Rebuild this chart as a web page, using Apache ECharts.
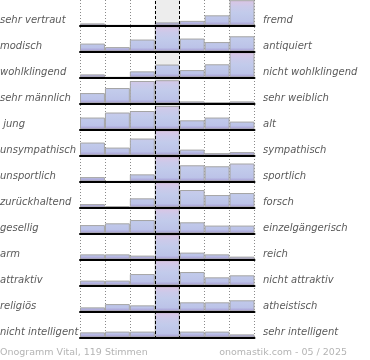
<!DOCTYPE html>
<html>
<head>
<meta charset="utf-8">
<script src="https://cdn.jsdelivr.net/npm/echarts@6/dist/echarts.min.js"></script>
<style>
html,body{margin:0;padding:0;background:#fff;}
#c{width:370px;height:360px;}
</style>
</head>
<body>
<div id="c"></div>
<script>
// ---- data ----
const bins = ['1','2','3','4','5','6','7'];
const leftLabels = ['sehr vertraut','modisch','wohlklingend','sehr männlich',' jung','unsympathisch','unsportlich','zurückhaltend','gesellig','arm','attraktiv','religiös','nicht intelligent'];
const rightLabels = ['fremd','antiquiert','nicht wohlklingend','sehr weiblich','alt','sympathisch','sportlich','forsch','einzelgängerisch','reich','nicht attraktiv','atheistisch','sehr intelligent'];
// bar heights in % of row height
const vertraut     = [8, 0, 0, 12, 18, 40, 100];
const modisch      = [31, 17, 47, 100, 51, 37, 60];
const wohlklingend = [12, 0, 24, 51, 29, 52, 100];
const maennlich    = [41, 61, 89, 92, 8, 4, 8];
const jung         = [47, 67, 73, 93, 36, 47, 31];
const unsympath    = [51, 31, 67, 100, 23, 9, 13];
const unsportlich  = [17, 0, 28, 100, 64, 60, 71];
const zurueck      = [13, 5, 36, 100, 69, 49, 57];
const gesellig     = [33, 40, 53, 100, 44, 31, 31];
const arm          = [20, 20, 15, 100, 27, 20, 11];
const attraktiv    = [19, 19, 45, 100, 53, 32, 40];
const religioes    = [16, 29, 24, 100, 36, 36, 44];
const intelligent  = [20, 23, 23, 100, 23, 23, 12];
const rows = [vertraut, modisch, wohlklingend, maennlich, jung, unsympath, unsportlich, zurueck, gesellig, arm, attraktiv, religioes, intelligent];
const footerLeft = 'Onogramm Vital, 119 Stimmen';
const footerRight = 'onomastik.com - 05 / 2025';

// ---- layout ----
const L = 80, W = 174.5, RH = 26, GH = 25.2;
const chart = echarts.init(document.getElementById('c'), null, {renderer: 'canvas'});
const grids = [], xAxes = [], yAxes = [], series = [], graphics = [];

rows.forEach((vals, i) => {
  const top = i * RH + 0.2;
  grids.push({left: L, top: top, width: W, height: GH});
  xAxes.push({type: 'category', data: bins, gridIndex: i, z: 5,
    axisLine: {show: true, lineStyle: {color: '#000', width: 2}},
    axisTick: {show: false}, axisLabel: {show: false}, splitLine: {show: false}});
  yAxes.push({type: 'value', gridIndex: i, min: 0, max: 100, show: false, splitLine: {show: false}});
  const grad = new echarts.graphic.LinearGradient(0, top, 0, top + GH, [
    {offset: 0, color: '#dcc5e4'},
    {offset: 0.25, color: '#cbcaea'},
    {offset: 0.5, color: '#c2cbeb'},
    {offset: 0.85, color: '#bcc3e8'},
    {offset: 1, color: '#a396d0'}
  ], true);
  series.push({type: 'bar', xAxisIndex: i, yAxisIndex: i, data: vals, z: 3,
    barCategoryGap: '0%', silent: true, animation: false,
    itemStyle: {color: grad, borderColor: '#a5a5a5', borderWidth: 1}});
  graphics.push({type: 'text', left: 0, top: top + 15,
    style: {text: leftLabels[i], fill: '#5a5a5a', font: 'italic 10px "DejaVu Sans"'}});
  graphics.push({type: 'text', left: 263, top: top + 15.5,
    style: {text: rightLabels[i], fill: '#5a5a5a', font: 'italic 10px "DejaVu Sans"'}});
});

// background grid: column lines and centre band
const bg = rows.length;
grids.push({left: L, top: 0, width: W, height: 339});
xAxes.push({type: 'value', gridIndex: bg, min: 0, max: 7, interval: 1, z: 0,
  axisLine: {show: false}, axisTick: {show: false}, axisLabel: {show: false},
  splitLine: {show: true, lineStyle: {color: '#8a8a8a', width: 1, type: [1, 2]}}});
yAxes.push({type: 'value', gridIndex: bg, min: 0, max: 1, show: false, splitLine: {show: false}});
series.push({type: 'line', xAxisIndex: bg, yAxisIndex: bg, data: [], z: 1, silent: true, animation: false,
  markArea: {silent: true, itemStyle: {color: '#ededed'}, data: [[{xAxis: 3}, {xAxis: 4}]]}});
series.push({type: 'line', xAxisIndex: bg, yAxisIndex: bg, data: [], z: 10, silent: true, animation: false,
  markLine: {silent: true, symbol: 'none', label: {show: false},
    lineStyle: {color: '#000', width: 1, type: [3, 2]}, data: [{xAxis: 3}, {xAxis: 4}]}});

graphics.push({type: 'text', left: 0, top: 348,
  style: {text: footerLeft, fill: '#b4b4b4', font: '9.5px "DejaVu Sans"'}});
graphics.push({type: 'text', right: 23, top: 348,
  style: {text: footerRight, fill: '#b4b4b4', font: '9.5px "DejaVu Sans"'}});

chart.setOption({
  animation: false,
  grid: grids, xAxis: xAxes, yAxis: yAxes, series: series, graphic: graphics
});
</script>
</body>
</html>
